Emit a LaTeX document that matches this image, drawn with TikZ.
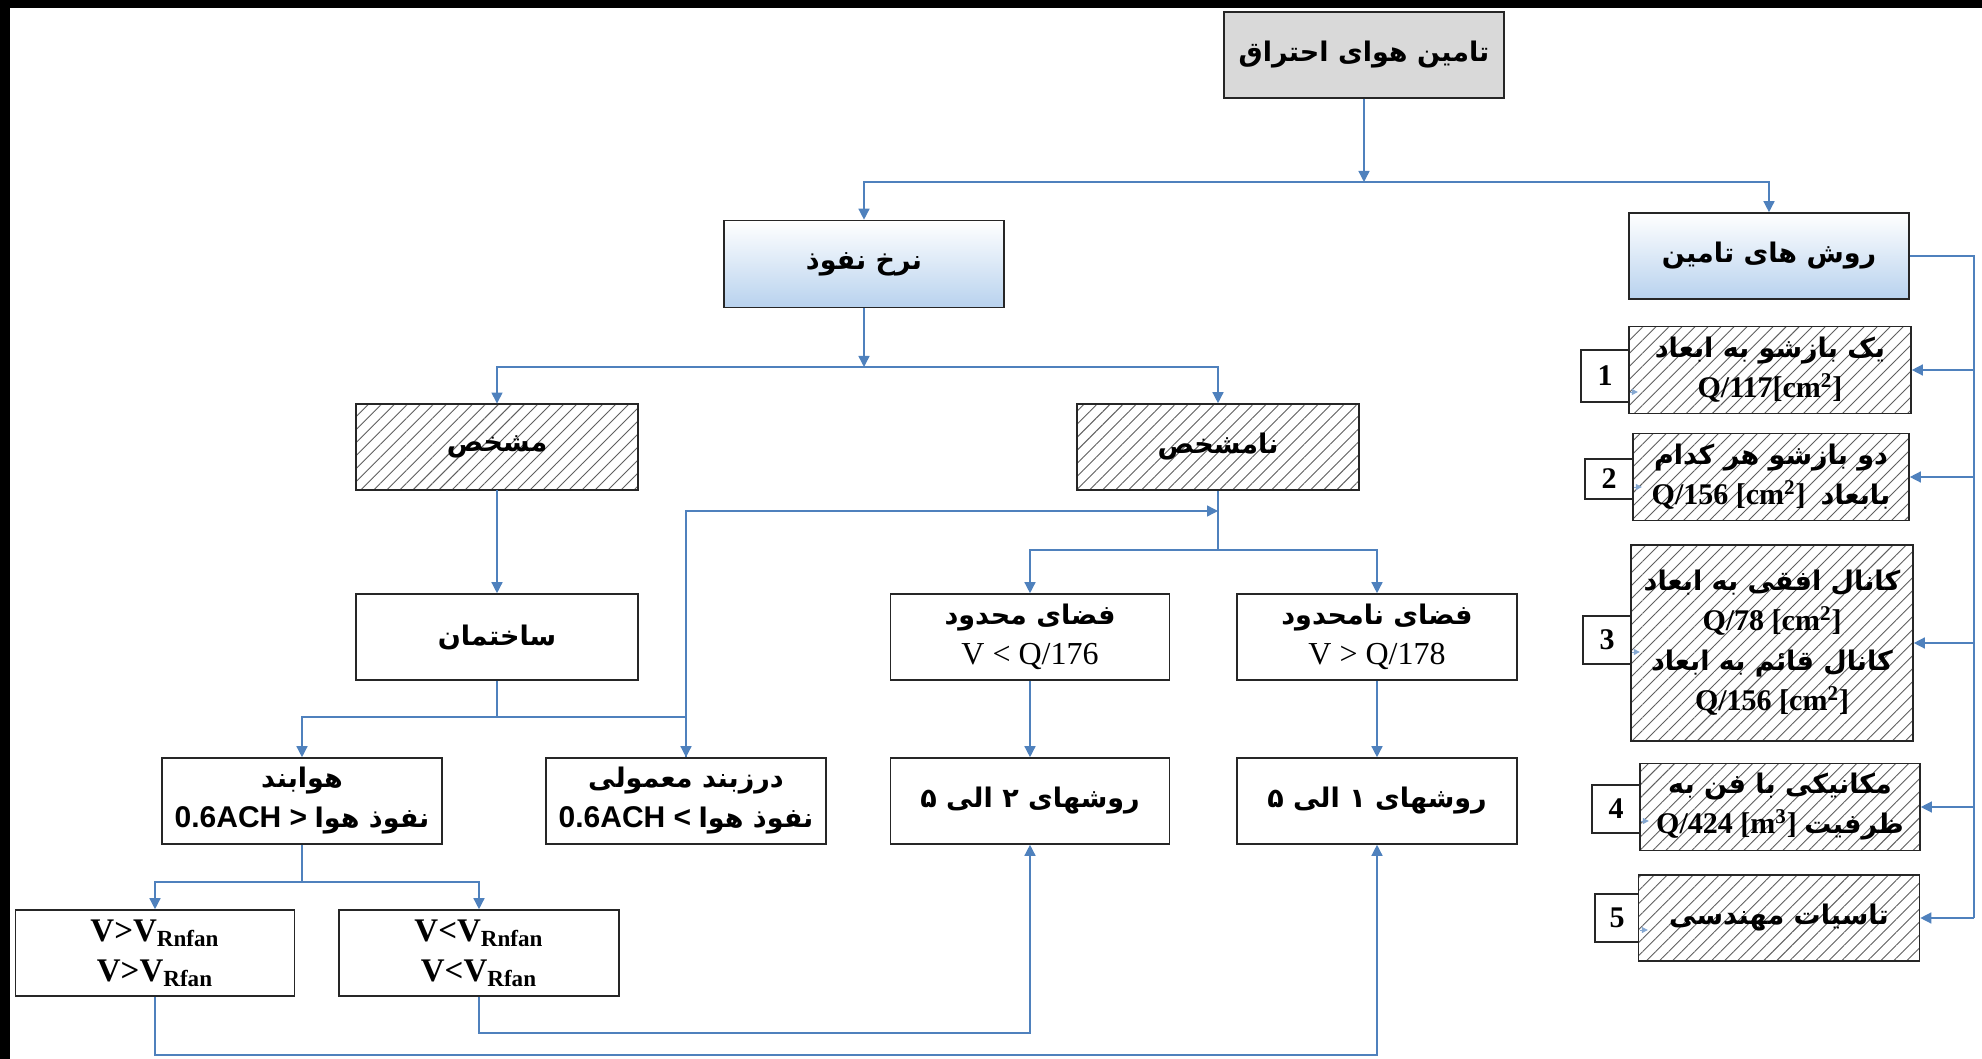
\documentclass[tikz,border=0pt]{standalone}
\usepackage{fontspec}
\setmainfont{Liberation Serif}
\newfontfamily\fa[Script=Arabic]{DejaVu Sans}
\newfontfamily\sansla{Liberation Sans}
\usepackage{tikz}
\usetikzlibrary{shapes,arrows.meta,positioning,patterns.meta}
\TeXXeTstate=1

\definecolor{linkblue}{RGB}{79,129,189}
\definecolor{lightblue}{RGB}{184,210,238}
\definecolor{boxgray}{RGB}{217,217,217}
\definecolor{hatchgray}{RGB}{95,95,95}

\newcommand{\fab}[1]{{\fa\bfseries\fontsize{13.5}{19}\selectfont\beginR #1\endR}}

\begin{document}
\begin{tikzpicture}[x=0.5pt, y=-0.5pt,
    frame/.style={rectangle, draw=black!85, line width=0.8pt, minimum width=140pt, minimum height=43pt, align=center, inner sep=2pt, font=\fontsize{15}{20}\selectfont},
    box/.style={frame, fill=white},
    graybox/.style={frame, fill=boxgray},
    bluebox/.style={frame, top color=white, bottom color=lightblue},
    hatchbox/.style={frame, preaction={fill=white}, pattern={Lines[angle=45, distance=4.6pt, line width=0.45pt]}, pattern color=hatchgray},
    numbox/.style={rectangle, draw=black!85, line width=0.8pt, fill=white, minimum width=24pt, minimum height=24pt, inner sep=1pt, font=\bfseries\fontsize{15}{15}\selectfont},
    vbox/.style={box, font=\bfseries\fontsize{16.5}{20}\selectfont},
    arrow/.style={-{Triangle[width=5.5pt, length=5.5pt]}, draw=linkblue, line width=0.7pt},
    line/.style={draw=linkblue, line width=0.7pt},
    tinyarrow/.style={-{Triangle[width=3pt, length=3pt]}, draw=linkblue!70, line width=0.5pt}
]
    \useasboundingbox (0,0) rectangle (1982,1059);
    \fill[black] (0,0) rectangle (1982,8);
    \fill[black] (0,0) rectangle (10,1059);

    % Top and second row
    \node[graybox] (tamin) at (1364,55) {\fab{تامین هوای احتراق}};
    \node[bluebox, minimum height=43.5pt] (nerkh) at (864,264) {\fab{نرخ نفوذ}};
    \node[bluebox] (ravesh) at (1769,256) {\fab{روش های تامین}};

    % Infiltration branch
    \node[hatchbox, minimum width=141pt] (moshakhas) at (497,447) {\fab{مشخص}};
    \node[hatchbox, minimum width=141pt] (namoshakhas) at (1218,447) {\fab{نامشخص}};
    \node[box, minimum width=141pt] (sakhteman) at (497,637) {\fab{ساختمان}};
    \node[box, minimum width=139.5pt, font=\fontsize{16}{20}\selectfont] (mahdood) at (1030,637) {\fab{فضای محدود}\\V < Q/176};
    \node[box, font=\fontsize{16}{20}\selectfont] (namahdood) at (1377,637) {\fab{فضای نامحدود}\\V > Q/178};
    \node[box] (havaband) at (302,801) {\fab{هوابند}\\{\sansla\bfseries 0.6ACH >} \fab{نفوذ هوا}};
    \node[box] (darzband) at (686,801) {\fab{درزبند معمولی}\\{\sansla\bfseries 0.6ACH <} \fab{نفوذ هوا}};
    \node[box, minimum width=139.5pt] (raveshha2) at (1030,801) {\fab{روشهای ۲ الی ۵}};
    \node[box] (raveshha1) at (1377,801) {\fab{روشهای ۱ الی ۵}};
    \node[vbox, minimum width=139.5pt] (vbig) at (155,953) {V>V\textsubscript{Rnfan}\\V>V\textsubscript{Rfan}};
    \node[vbox] (vsmall) at (479,953) {V<V\textsubscript{Rnfan}\\V<V\textsubscript{Rfan}};

    % Supply methods (numbered)
    \node[numbox, minimum height=26pt] (n1) at (1605,376) {1};
    \node[numbox, minimum height=20pt] (n2) at (1609,479) {2};
    \node[numbox] (n3) at (1607,640) {3};
    \node[numbox] (n4) at (1616,809) {4};
    \node[numbox, minimum width=22pt] (n5) at (1617,918) {5};
    \node[hatchbox, minimum width=141pt, minimum height=43.5pt] (m1) at (1770,370) {\fab{یک بازشو به ابعاد}\\\textbf{Q/117[cm\textsuperscript{2}]}};
    \node[hatchbox, minimum width=138pt, minimum height=43.5pt] (m2) at (1771,477) {\fab{دو بازشو هر کدام}\\\textbf{Q/156 [cm\textsuperscript{2}]}~~\fab{بابعاد}};
    \node[hatchbox, minimum width=141pt, minimum height=98pt] (m3) at (1772,643) {\fab{کانال افقی به ابعاد}\\\textbf{Q/78 [cm\textsuperscript{2}]}\\\fab{کانال قائم به ابعاد}\\\textbf{Q/156 [cm\textsuperscript{2}]}};
    \node[hatchbox, minimum height=43.5pt] (m4) at (1780,807) {\fab{مکانیکی با فن به}\\\textbf{Q/424 [m\textsuperscript{3}]} \fab{ظرفیت}};
    \node[hatchbox, minimum width=140.5pt] (m5) at (1779,918) {\fab{تاسیات مهندسی}};

    % Connectors
    \coordinate (split1) at (1364,182);
    \draw[arrow] (tamin) -- (split1);
    \draw[arrow] (split1) -| (nerkh);
    \draw[arrow] (split1) -| (ravesh);

    \coordinate (split2) at (864,367);
    \draw[arrow] (nerkh) -- (split2);
    \draw[arrow] (split2) -| (moshakhas);
    \draw[arrow] (split2) -| (namoshakhas);

    \draw[arrow] (moshakhas) -- (sakhteman);
    \coordinate (split3) at (497,717);
    \draw[line] (sakhteman) -- (split3);
    \draw[arrow] (split3) -| (havaband);
    \draw[arrow] (split3) -| (darzband);

    \coordinate (join1) at (1218,511);
    \draw[arrow] (darzband.north) |- (join1);
    \coordinate (split4) at (1218,550);
    \draw[line] (namoshakhas) -- (split4);
    \draw[arrow] (split4) -| (mahdood);
    \draw[arrow] (split4) -| (namahdood);
    \draw[arrow] (mahdood) -- (raveshha2);
    \draw[arrow] (namahdood) -- (raveshha1);

    \coordinate (split5) at (302,882);
    \draw[line] (havaband) -- (split5);
    \draw[arrow] (split5) -| (vbig);
    \draw[arrow] (split5) -| (vsmall);
    \draw[arrow] (vbig.south) -- ++(0,58) -| (raveshha1.south);
    \draw[arrow] (vsmall.south) -- ++(0,36) -| (raveshha2.south);

    % Right trunk to the methods
    \coordinate (trunk) at (1974,256);
    \draw[line] (ravesh.east) -- (trunk) -- (trunk |- m5.east);
    \draw[arrow] (trunk |- m1.east) -- (m1.east);
    \draw[arrow] (trunk |- m2.east) -- (m2.east);
    \draw[arrow] (trunk |- m3.east) -- (m3.east);
    \draw[arrow] (trunk |- m4.east) -- (m4.east);
    \draw[arrow] (trunk |- m5.east) -- (m5.east);

    \draw[tinyarrow] ([yshift=-8pt]n1.east) -- ([yshift=-8pt, xshift=4pt]n1.east);
    \draw[tinyarrow] ([yshift=-4pt]n2.east) -- ([yshift=-4pt, xshift=4pt]n2.east);
    \draw[tinyarrow] ([yshift=-6pt]n3.east) -- ([yshift=-6pt, xshift=4pt]n3.east);
    \draw[tinyarrow] ([yshift=-6pt]n4.east) -- ([yshift=-6pt, xshift=4pt]n4.east);
    \draw[tinyarrow] ([yshift=-6pt]n5.east) -- ([yshift=-6pt, xshift=4pt]n5.east);
\end{tikzpicture}
\end{document}
